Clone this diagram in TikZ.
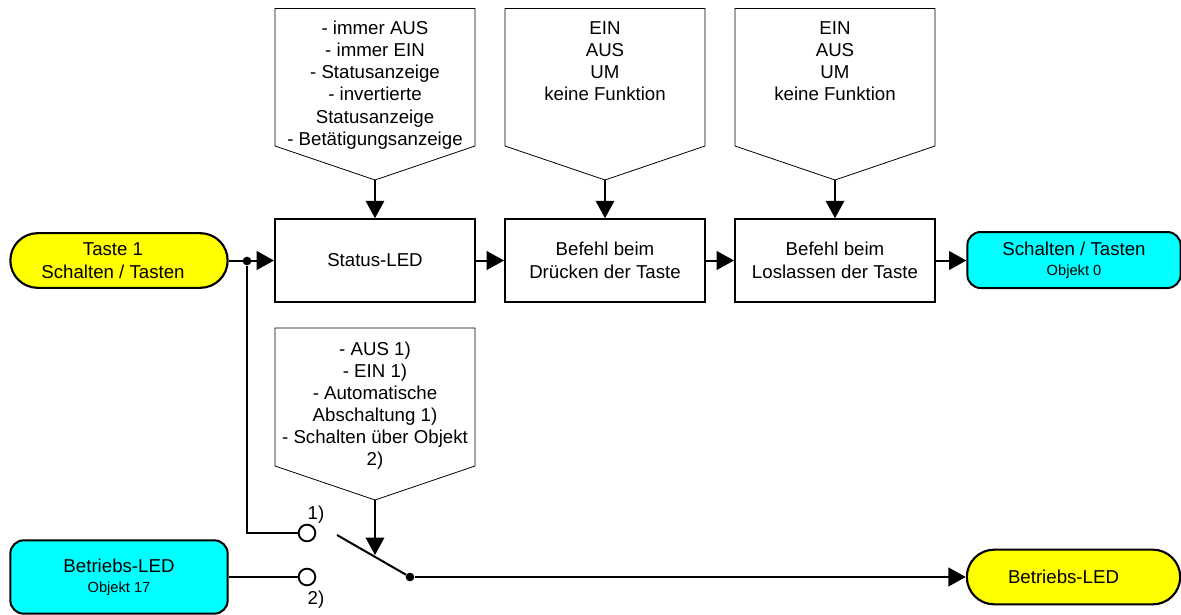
\documentclass[tikz,border=0pt]{standalone}
\usepackage{fontspec}
\setmainfont{Liberation Sans}
\usetikzlibrary{arrows.meta,shapes.misc}
\definecolor{aqua}{RGB}{0,255,255}
\definecolor{lemon}{RGB}{255,255,0}
\tikzset{
  x=0.75pt,y=-0.75pt,
  wire/.style={line width=1.5pt,black},
  thinwire/.style={line width=0.8pt,black},
  arr/.style={-{Triangle[length=13pt,width=14pt]}},
  box/.style={draw,line width=1.5pt,minimum width=150pt,minimum height=62pt,inner sep=0pt,align=center,font=\boxfs},
  pillbox/.style={draw,line width=1.6pt,fill=lemon,rounded rectangle,inner sep=0pt,align=center,font=\boxfs},
  cyanbox/.style={draw,line width=1.5pt,fill=aqua,rounded corners=10pt,inner sep=0pt,align=center,font=\boxfs},
  callout/.style={draw=black,line width=0.6pt,fill=white},
  calltext/.style={align=center,font=\mainfs,inner sep=0pt},
  lab/.style={font=\mainfs,inner sep=0pt},
  dotn/.style={circle,fill=black,inner sep=0pt,minimum size=6.5pt},
  contact/.style={circle,draw,line width=1.4pt,fill=white,inner sep=0pt,minimum size=12.5pt},
}
\newcommand{\mainfs}{\fontsize{14pt}{16.55pt}\selectfont}
\newcommand{\boxfs}{\fontsize{14pt}{17.4pt}\selectfont}
\newcommand{\smallfs}{\fontsize{11pt}{13pt}\selectfont}
\begin{document}
\begin{tikzpicture}
\useasboundingbox (0,0) rectangle (1181,614);
% callouts
\draw[callout] (275,8.5) -- (475,8.5) -- (475,146) -- (375,180) -- (275,146) -- cycle;
\draw[callout] (505,8.5) -- (705,8.5) -- (705,146) -- (605,180) -- (505,146) -- cycle;
\draw[callout] (735,8.5) -- (935,8.5) -- (935,146) -- (835,180) -- (735,146) -- cycle;
\draw[callout] (275,328) -- (475,328) -- (475,466) -- (375,500) -- (275,466) -- cycle;
\node[calltext,anchor=north] (c1) at (375,21) {- immer AUS\\- immer EIN\\- Statusanzeige\\- invertierte\\Statusanzeige\\- Betätigungsanzeige};
\node[calltext,anchor=north] (c2) at (605,21) {EIN\\AUS\\UM\\keine Funktion};
\node[calltext,anchor=north] (c3) at (835,21) {EIN\\AUS\\UM\\keine Funktion};
\node[calltext,anchor=north] (c4) at (375,341.5) {- AUS 1)\\- EIN 1)\\- Automatische\\Abschaltung 1)\\- Schalten über Objekt\\2)};
\coordinate (t1) at (375,180);
\coordinate (t2) at (605,180);
\coordinate (t3) at (835,180);
\coordinate (t4) at (375,500);
% boxes
\node[box] (led) at (375,260.5) {Status-LED};
\node[box] (press) at (605,260.5) {Befehl beim\\Drücken der Taste};
\node[box] (rel) at (835,260.5) {Befehl beim\\Loslassen der Taste};
\node[pillbox,minimum width=163pt,minimum height=41pt] (in) at (119,260.5) {Taste 1\hspace*{9pt}\\Schalten / Tasten\hspace*{9pt}};
\node[cyanbox,minimum width=160pt,minimum height=42pt] (out) at (1074,260) {Schalten / Tasten\\[-2.4pt]{\smallfs Objekt 0}};
\node[cyanbox,minimum width=163pt,minimum height=55pt] (bled) at (119,577) {Betriebs-LED\\[-2.4pt]{\smallfs Objekt 17}};
\node[pillbox,minimum width=160pt,minimum height=41pt] (oled) at (1073.5,577) {Betriebs-LED\hspace*{15pt}};
% switch
\node[contact] (k1) at (307,533) {};
\node[contact] (k2) at (307,577) {};
\node[dotn] (sw) at (410,577) {};
\coordinate (lev) at (337,535);
\node[dotn] (j) at (247,261) {};
\coordinate (corner) at (247,533);
\coordinate (hit) at (375,555);
\node[lab] (l1) at (316,515) {1)};
\node[lab] (l2) at (316,600) {2)};
% connectors
\draw[wire,arr] (in.east) -- (led.west);
\draw[wire,arr] (led.east) -- (press.west);
\draw[wire,arr] (press.east) -- (rel.west);
\draw[wire,arr] (rel.east) -- (out.west |- rel.east);
\draw[thinwire,arr] (t1) -- (led.north);
\draw[thinwire,arr] (t2) -- (press.north);
\draw[thinwire,arr] (t3) -- (rel.north);
\draw[thinwire,arr] (t4) -- (hit);
\draw[wire] (j) -- (corner) -- (k1);
\draw[wire] (bled.east |- k2) -- (k2);
\draw[wire] (lev) -- (sw);
\draw[wire,arr] (sw) -- (oled.west);
\end{tikzpicture}
\end{document}
